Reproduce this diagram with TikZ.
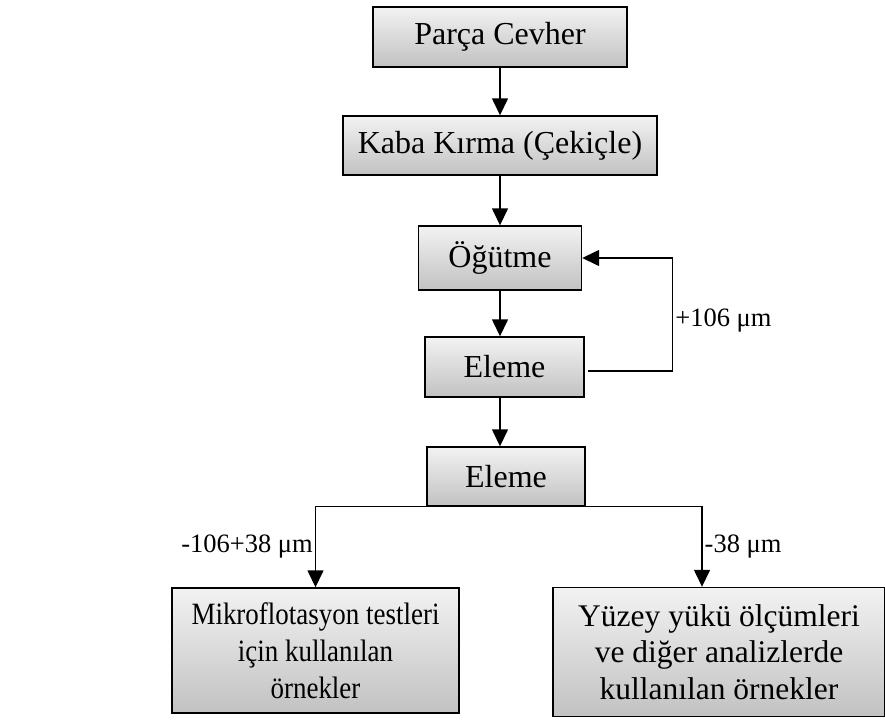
\documentclass[tikz,border=0pt]{standalone}
\usepackage{fontspec}
\setmainfont{Liberation Serif}
\usetikzlibrary{arrows.meta}
\definecolor{boxtop}{rgb}{0.95, 0.95, 0.95}
\definecolor{boxbottom}{rgb}{0.76, 0.76, 0.76}
\tikzstyle{stepbox} = [rectangle, text centered, line width=1.4pt, draw=black, top color=boxtop, bottom color=boxbottom, inner sep=0pt, font=\fontsize{32}{37}\selectfont]
\tikzstyle{arrow} = [line width=1.4pt,-{Triangle[width=16pt,length=17pt]}]
\tikzstyle{line} = [line width=1.4pt,-]
\tikzstyle{sizelabel} = [inner sep=2pt, font=\fontsize{26.5}{30}\selectfont]

\begin{document}
\begin{tikzpicture}[node distance=110pt, align=center]
\useasboundingbox (0,0) rectangle (885pt,-720pt);

% Nodes
\node (parca) [stepbox, minimum width=254pt, minimum height=60pt] at (500pt,-37pt) {Parça Cevher};

\node (kaba) [stepbox, below of=parca, yshift=1.5pt, minimum width=314pt, minimum height=59pt] {Kaba Kırma (Çekiçle)};

\node (ogutme) [stepbox, below of=kaba, yshift=-2.5pt, minimum width=163pt, minimum height=64pt] {Öğütme};

\node (eleme1) [stepbox, below of=ogutme, yshift=1pt, xshift=4.5pt, minimum width=159pt, minimum height=60pt] {Eleme};

\node (eleme2) [stepbox, below of=eleme1, yshift=0.5pt, xshift=1.5pt, minimum width=158pt, minimum height=59pt] {Eleme};

\node (mikro) [stepbox, below of=eleme2, yshift=-64pt, xshift=-190.5pt, minimum width=287pt, minimum height=125pt, font=\fontsize{31}{37}\selectfont\addfontfeature{FakeStretch=0.87}] {Mikroflotasyon testleri\\için kullanılan\\örnekler};

\node (yuzey) [stepbox, right of=mikro, xshift=293.5pt, yshift=-1.5pt, minimum width=332pt, minimum height=129pt, font=\fontsize{31.5}{36.5}\selectfont] {Yüzey yükü ölçümleri\\ve diğer analizlerde\\kullanılan örnekler};

\coordinate (loop) at ([xshift=88pt, yshift=-4pt]eleme1.east);
\coordinate (rightdrop) at ([xshift=-17pt]yuzey.north);

% Arrows
\draw [arrow] (parca) -- (kaba);
\draw [arrow] (kaba.south) -- (kaba.south |- ogutme.north);
\draw [arrow] (ogutme.south) -- (ogutme.south |- eleme1.north);
\draw [arrow] (ogutme.south |- eleme1.south) -- (ogutme.south |- eleme2.north);

\draw [line] ([xshift=3pt, yshift=-4pt]eleme1.east) -- (loop);
\draw [line] (loop) -- node[sizelabel, right, pos=0.45] {+106 μm} (loop |- ogutme.east);
\draw [arrow] (loop |- ogutme.east) -- (ogutme.east);

\draw [arrow] (eleme2.south west) -| node[sizelabel, left, pos=0.75] {-106+38 μm} (mikro.north);
\draw [arrow] (eleme2.south east) -| node[sizelabel, right, pos=0.75] {-38 μm} (rightdrop);

\end{tikzpicture}
\end{document}
